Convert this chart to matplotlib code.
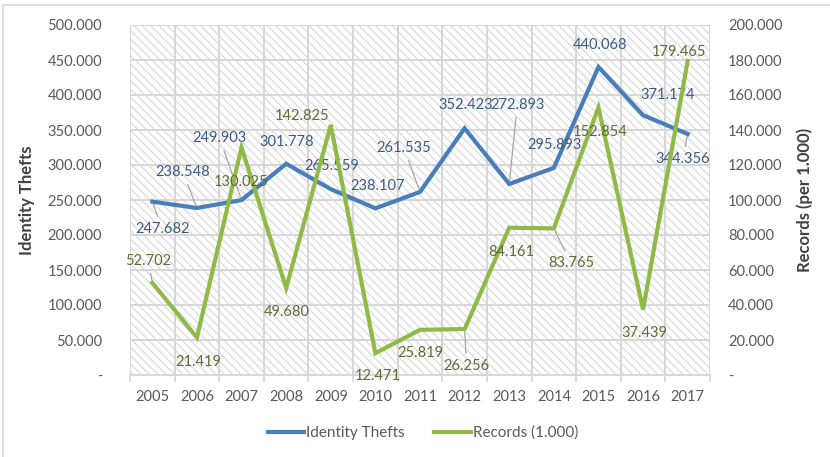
import matplotlib
matplotlib.use("Agg")
import matplotlib.pyplot as plt
from matplotlib.patches import Rectangle
from matplotlib.lines import Line2D
from matplotlib.ticker import FuncFormatter, MultipleLocator
import numpy as np

years = ["2005", "2006", "2007", "2008", "2009", "2010", "2011",
         "2012", "2013", "2014", "2015", "2016", "2017"]
identity_thefts = [247682, 238548, 249903, 301778, 265559, 238107, 261535,
                   352423, 272893, 295893, 440068, 371174, 344356]
records = [52702, 21419, 130025, 49680, 142825, 12471, 25819,
           26256, 84161, 83765, 152854, 37439, 179465]

# label offsets in pixels (dx, dy) and whether a leader line is drawn
theft_label_pos = [(10, -27, True), (-14, 36, True), (-22, 62, True), (1, 22, False),
                   (1, 23, False), (2, 22, False), (-16, 44, True), (1, 23, False),
                   (8, 79, True), (1, 23, False), (2, 22, False), (25, 20, False),
                   (-5, -25, True)]
record_label_pos = [(-4, 22, True), (1, -24, False), (0, -35, False), (1, -24, False),
                    (-29, 9, False), (2, -23, False), (0, -23, False), (2, -37, True),
                    (2, -24, False), (17, -35, True), (2, -24, False), (1, -24, False),
                    (-9, 9, False)]

FONT = ["Lato", "DejaVu Sans"]
plt.rcParams["font.family"] = FONT
plt.rcParams["hatch.linewidth"] = 0.8

BLUE = "#4a7ebb"
GREEN = "#8fba48"
BLUE_TXT = "#3d5a86"
GREEN_TXT = "#5f6a35"
GRID = "#d6d6d6"
HATCH = "#d8d8d8"
TICK_TXT = "#595959"

W, H = 830, 457
fig = plt.figure(figsize=(W / 100, H / 100), dpi=100)
fig.patch.set_facecolor("white")

ax = fig.add_axes([130 / W, 1 - 375 / H, 580 / W, 350 / H])
ax2 = ax.twinx()

x = np.arange(len(years))
ax.set_xlim(-0.5, len(years) - 0.5)
ax.set_ylim(0, 500000)
ax2.set_ylim(0, 200000)

# hatched plot area background
ax.add_patch(Rectangle((0, 0), 1, 1, transform=ax.transAxes, facecolor="white",
                       edgecolor=HATCH, linewidth=0, hatch="\\\\\\\\", zorder=0))

# grid
for yv in np.arange(0, 500001, 50000):
    ax.axhline(yv, color=GRID, lw=1.4, zorder=1)
for xv in np.arange(-0.5, len(years), 1.0):
    ax.axvline(xv, color=GRID, lw=1.4, zorder=1)

for a in (ax, ax2):
    for s in a.spines.values():
        s.set_visible(False)

ax.plot(x, identity_thefts, color=BLUE, lw=3.0, zorder=3, solid_joinstyle="miter")
ax2.plot(x, records, color=GREEN, lw=3.0, zorder=3, solid_joinstyle="miter")


def dotted(v, pos=None):
    if v == 0:
        return "-"
    return f"{int(round(v)):,}".replace(",", ".")


ax.yaxis.set_major_locator(MultipleLocator(50000))
ax2.yaxis.set_major_locator(MultipleLocator(20000))
ax.yaxis.set_major_formatter(FuncFormatter(dotted))
ax2.yaxis.set_major_formatter(FuncFormatter(dotted))
ax.tick_params(axis="y", length=0, pad=20, labelsize=10.5, labelcolor=TICK_TXT)
ax2.tick_params(axis="y", length=0, pad=13, labelsize=10.5, labelcolor=TICK_TXT)

ax.set_xticks(x)
ax.set_xticklabels(years)
ax.set_xticks(np.arange(-0.5, len(years), 1.0), minor=True)
ax.tick_params(axis="x", which="major", length=0, pad=11, labelsize=10.5, labelcolor=TICK_TXT)
ax.tick_params(axis="x", which="minor", length=5, width=1.2, color=GRID)
ax.spines["bottom"].set_visible(True)
ax.spines["bottom"].set_color(GRID)
ax.spines["bottom"].set_linewidth(1.4)

ax.set_ylabel("Identity Thefts", fontsize=12, fontweight="bold", color="#404040", labelpad=9)
ax2.set_ylabel("Records (per 1.000)", fontsize=12, fontweight="bold", color="#404040", labelpad=10)


def label_series(axis, values, positions, color):
    for xi, v, (dx, dy, leader) in zip(x, values, positions):
        kw = {}
        if leader:
            kw["arrowprops"] = dict(arrowstyle="-", color="#a6a6a6", lw=0.9,
                                    shrinkA=2, shrinkB=2)
        axis.annotate(dotted(v), xy=(xi, v), xytext=(dx, dy), textcoords="offset pixels",
                      ha="center", va="center", fontsize=10.5, color=color,
                      zorder=5, **kw)


label_series(ax, identity_thefts, theft_label_pos, BLUE_TXT)
label_series(ax2, records, record_label_pos, GREEN_TXT)

handles = [Line2D([], [], color=BLUE, lw=3), Line2D([], [], color=GREEN, lw=3)]
fig.legend(handles, ["Identity Thefts", "Records (1.000)"], loc="center",
           bbox_to_anchor=(423 / W, 1 - 433 / H), ncol=2, frameon=False,
           fontsize=11, handlelength=2.4, handletextpad=0.15, columnspacing=1.9,
           labelcolor=TICK_TXT)

# chart frame
fig.add_artist(Line2D([3 / W, 1.0], [1 - 5 / H, 1 - 5 / H], transform=fig.transFigure,
                      color="#d9d9d9", lw=1.2))
fig.add_artist(Line2D([3 / W, 3 / W], [0, 1 - 5 / H], transform=fig.transFigure,
                      color="#d9d9d9", lw=1.2))

fig.savefig("out.png", dpi=100)
